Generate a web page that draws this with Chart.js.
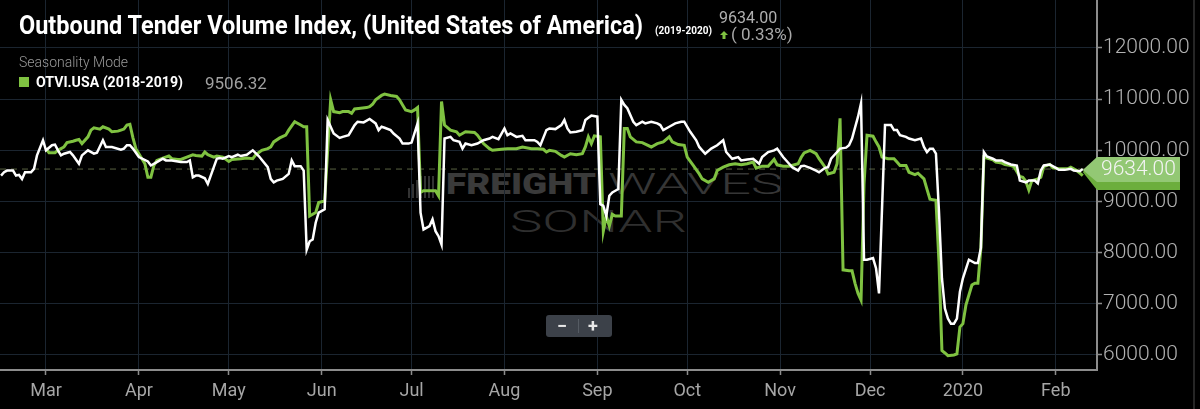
<!DOCTYPE html>
<html>
<head>
<meta charset="utf-8">
<script src="https://cdn.jsdelivr.net/npm/chart.js@4.4.1/dist/chart.umd.min.js"></script>
<style>
html,body{margin:0;padding:0;background:#000;width:1200px;height:409px;overflow:hidden;font-family:Roboto,"Noto Sans",sans-serif;}
#wrap{position:relative;width:1200px;height:409px;background:#000;}
#c{position:absolute;left:0;top:0;z-index:1;}
.abs{position:absolute;white-space:nowrap;transform-origin:0 0;}
.wm{z-index:0;}
.ov{z-index:2;}
#rborder{position:absolute;left:1193px;top:0;width:2px;height:409px;background:#262626;z-index:2;}
#zoomctl{position:absolute;left:546px;top:315px;width:66px;height:22px;background:#3c4149;border-radius:3px;z-index:2;}
#zoomctl span{position:absolute;top:0;line-height:21px;color:#e8e8e8;font-weight:700;font-size:18px;}
</style>
</head>
<body>
<div id="wrap">
  <div id="wmIcon" class="abs wm" style="left:408px;top:176px;width:29px;height:22px;"></div>
  <div id="wmF" class="abs wm" style="left:446px;top:169px;font-size:30px;line-height:30px;font-weight:900;color:#3a3a3a;">FREIGHT</div>
  <div id="wmW" class="abs wm" style="left:608px;top:169px;font-size:30px;line-height:30px;font-weight:300;color:#363636;">WAVES</div>
  <div id="wmS" class="abs wm" style="left:510px;top:205px;font-size:32px;line-height:32px;font-weight:300;color:#2f2f2f;">SONAR</div>

  <canvas id="c" width="1200" height="409"></canvas>

  <div id="title" class="abs ov" style="left:19px;top:13px;font-size:25px;line-height:25px;font-weight:700;color:#fff;">Outbound Tender Volume Index, (United States of America)</div>
  <div id="titleSub" class="abs ov" style="left:655px;top:25px;font-size:11px;line-height:11px;font-weight:700;color:#fff;">(2019-2020)</div>
  <div id="curVal" class="abs ov" style="left:719px;top:10px;font-size:16px;line-height:16px;font-weight:400;color:#b0b0b0;">9634.00</div>
  <svg class="abs ov" style="left:720px;top:31px;" width="8" height="8" viewBox="0 0 8 8"><path d="M4 0 L8 4 L5.5 4 L5.5 8 L2.5 8 L2.5 4 L0 4 Z" fill="#7fc241"/></svg>
  <div id="chg" class="abs ov" style="left:731px;top:26px;font-size:17px;line-height:17px;font-weight:400;color:#a8a8a8;">( 0.33%)</div>
  <div id="mode" class="abs ov" style="left:19px;top:55px;font-size:14px;line-height:14px;font-weight:300;color:#9a9a9a;">Seasonality Mode</div>
  <div class="abs ov" style="left:19px;top:77px;width:10px;height:10px;background:#7fc241;"></div>
  <div id="leg" class="abs ov" style="left:36px;top:75px;font-size:15px;line-height:15px;font-weight:700;color:#fff;">OTVI.USA (2018-2019)</div>
  <div id="legVal" class="abs ov" style="left:205px;top:75px;font-size:17px;line-height:17px;font-weight:400;color:#a0a0a0;">9506.32</div>
  <div id="zoomctl"><span style="left:11px;">&minus;</span><span style="left:42px;">+</span><div style="position:absolute;left:32px;top:4px;width:1px;height:14px;background:#555b63;"></div></div>
  <div id="rborder"></div>
</div>
<script>
// ---- data (days counted from 1 March of the 2019 season year) ----
const monthTickDays   = [0, 31, 61, 92, 122, 153, 184, 214, 245, 275, 306, 337];
const monthTickLabels = ['Mar','Apr','May','Jun','Jul','Aug','Sep','Oct','Nov','Dec','2020','Feb'];
const yTickValues     = [6000, 7000, 8000, 9000, 10000, 11000, 12000];

// OTVI.USA 2019-2020 (white)
const whiteDays = [-15,-14,-13,-11,-10,-9,-8,-7,-5,-4,-3,-1,0,2,3,4,5,6,8,9,11,12,14,16,17,19,20,22,25,26,27,28,29,31,34,35,37,39,40,42,45,47,48,49,50,51,53,54,56,57,58,59,61,62,64,65,67,69,71,74,75,76,77,79,81,82,83,85,86,87,88,89,90,91,93,94,95,96,98,99,101,103,104,106,108,110,111,112,113,115,116,118,119,121,122,124,125,126,128,129,130,131,132,133,135,136,138,139,140,142,144,146,148,149,151,153,154,155,157,159,160,163,164,165,167,168,170,172,173,174,175,177,179,180,181,182,184,185,186,187,188,189,190,191,192,193,194,196,197,199,200,202,204,205,206,208,210,212,213,215,217,218,220,222,224,226,227,229,231,232,234,236,238,239,241,243,244,246,248,249,251,252,253,255,257,258,260,261,262,264,265,267,268,269,271,272,273,274,276,277,278,280,282,283,284,285,287,288,290,292,293,294,295,296,297,298,299,300,301,302,303,304,305,306,308,310,311,312,313,314,316,317,319,320,322,324,325,327,328,330,331,332,333,335,337,338,340,342,343,345,346];
const whiteValues = [9507,9572,9605,9605,9507,9520,9441,9572,9572,9638,9901,10197,10000,10099,10112,10000,9901,9934,9967,9901,9737,9901,10000,9934,9954,10197,10066,10066,10013,10033,10099,10099,10033,9868,9783,9704,9770,9836,9803,9803,9770,9770,9803,9474,9507,9507,9454,9342,9671,9836,9849,9836,9888,9868,9914,9888,9914,10000,9888,9671,9441,9375,9408,9441,9539,9803,9691,9691,9605,8059,8223,8256,8585,8783,8849,10592,10461,10329,10243,10263,10296,10494,10559,10546,10612,10526,10395,10461,10441,10395,10329,10230,10132,10132,10151,10526,8783,8454,8520,8651,8420,8322,8158,10230,10263,10197,10165,10033,10132,10099,10132,10197,10230,10263,10217,10428,10296,10329,10263,10283,10197,10197,10165,10099,10395,10428,10415,10494,10592,10428,10349,10362,10395,10592,10638,10678,10658,8947,8914,8717,9112,9178,9210,9243,10987,10888,10823,10559,10494,10559,10526,10559,10526,10494,10395,10461,10526,10559,10559,10362,10197,10066,9934,10033,10099,10197,9967,9836,9868,9803,9822,9836,9737,9868,9967,10000,10033,9868,9737,9671,9605,9690,9700,9658,9605,9572,9658,9671,9836,9967,10033,10053,10099,10230,10658,10921,7862,7862,7895,7697,7204,10493,10493,10395,10395,10296,10263,10230,10197,10230,10066,9967,10033,10033,9934,8816,7500,6908,6711,6612,6612,6711,7237,7500,7862,7796,7796,8092,9967,9882,9836,9803,9803,9770,9724,9704,9408,9375,9408,9408,9355,9605,9704,9724,9658,9618,9618,9638,9605,9592,9634];

// OTVI.USA 2018-2019 (green)
const greenDays = [0,1,3,4,5,6,7,9,10,11,12,14,15,16,18,19,21,22,24,25,26,27,28,29,30,31,33,34,35,36,37,39,41,42,44,45,47,49,50,52,53,54,56,57,59,61,62,65,67,69,70,72,74,75,76,78,80,81,83,85,86,87,88,90,91,93,95,96,98,99,101,102,103,105,107,108,109,110,112,113,115,117,118,119,120,122,123,124,125,126,128,130,131,132,133,135,137,138,140,143,144,146,148,149,152,154,157,159,162,164,166,167,168,170,172,173,175,177,179,180,181,182,183,185,186,187,188,189,190,192,193,194,195,197,199,202,204,206,208,209,211,213,214,216,218,219,221,223,224,226,228,230,232,234,236,237,239,241,243,244,246,248,251,252,253,255,257,258,260,261,263,264,265,266,268,269,270,271,272,273,274,276,277,278,279,281,283,284,285,287,288,290,291,293,294,295,297,298,299,300,301,303,304,305,306,307,309,310,311,312,313,316,317,319,320,322,323,325,326,327,328,329,331,332,333,335,336,338,340,341,342,344,346];
const greenValues = [10033,9954,9954,10000,10033,10066,10151,10178,10197,10211,10132,10263,10395,10441,10415,10461,10415,10362,10375,10395,10415,10494,10507,10250,10033,9934,9737,9474,9474,9704,9803,9849,9888,9836,9822,9822,9868,9914,9901,9888,9967,9914,9868,9888,9868,9783,9822,9836,9849,9836,9914,10000,10033,10066,10165,10243,10296,10395,10559,10494,10461,10461,8717,8783,8980,9013,10987,10757,10737,10757,10757,10724,10809,10823,10836,10855,10901,10987,11073,11099,11073,11053,10987,10888,10790,10757,10790,10836,9178,9210,9210,9210,9112,10954,10494,10395,10362,10296,10362,10349,10296,10132,10033,10000,10020,10033,10033,10066,10033,10033,10020,9967,10000,9980,9901,9868,9934,9914,9934,10066,10263,10132,10283,10263,8421,8717,8520,8750,8717,8717,10428,10428,10263,10165,10151,10066,10132,10165,10263,10165,10112,10099,9868,9704,9539,9441,9375,9441,9605,9671,9717,9737,9717,9737,9770,9651,9691,9691,9822,9717,9691,9691,9737,9860,9950,10000,9934,9836,9671,9540,9572,9737,10625,7664,7645,7645,7401,7204,7072,9342,10296,10276,10165,10066,9868,9836,9836,9770,9704,9704,9572,9526,9553,9441,9243,9046,9026,7829,6086,6039,5987,6000,6020,6546,6612,6974,7368,7401,7401,8092,9868,9816,9770,9750,9724,9704,9684,9487,9474,9395,9224,9408,9441,9474,9684,9724,9658,9638,9638,9638,9671,9605,9506.32];

const currentValue = 9634.00;

const whitePoints = whiteDays.map((d, i) => ({x: d, y: whiteValues[i]}));
const greenPoints = greenDays.map((d, i) => ({x: d, y: greenValues[i]}));

const lastValuePlugin = {
  id: 'lastValue',
  beforeDatasetsDraw(chart) {
    const {ctx, chartArea, scales} = chart;
    const y = scales.y.getPixelForValue(currentValue);
    ctx.save();
    ctx.strokeStyle = 'rgba(150,165,110,0.6)';
    ctx.lineWidth = 1;
    ctx.setLineDash([6, 5]);
    ctx.beginPath();
    ctx.moveTo(chartArea.left, y);
    ctx.lineTo(chartArea.right, y);
    ctx.stroke();
    ctx.restore();
  },
  afterDraw(chart) {
    const {ctx, chartArea, scales} = chart;
    const y = scales.y.getPixelForValue(currentValue);
    const tipX = scales.x.getPixelForValue(whiteDays[whiteDays.length - 1]);
    const bx = chartArea.right, ex = 1180;
    ctx.save();
    ctx.fillStyle = '#6cae3c';
    ctx.beginPath();
    ctx.moveTo(tipX, y + 3);
    ctx.lineTo(bx, y - 10);
    ctx.lineTo(ex, y - 10);
    ctx.lineTo(ex, y + 21);
    ctx.lineTo(bx, y + 21);
    ctx.closePath();
    ctx.fill();
    ctx.fillStyle = '#93c874';
    ctx.beginPath();
    ctx.moveTo(tipX, y + 1);
    ctx.lineTo(bx, y - 12);
    ctx.lineTo(ex, y - 12);
    ctx.lineTo(ex, y + 13);
    ctx.lineTo(bx, y + 13);
    ctx.closePath();
    ctx.fill();
    ctx.fillStyle = '#f4f4f4';
    ctx.font = '300 21px Roboto';
    ctx.textBaseline = 'middle';
    ctx.textAlign = 'left';
    ctx.fillText(currentValue.toFixed(2), bx + 4, y + 1);
    ctx.restore();
  }
};

const axisGray = '#8c8c8c';
const gridCol = '#1b2530';

new Chart(document.getElementById('c'), {
  type: 'line',
  data: {
    datasets: [
      { label: 'OTVI.USA (2019-2020)', data: whitePoints, borderColor: '#ffffff', borderWidth: 2.5, pointRadius: 0, tension: 0, fill: false },
      { label: 'OTVI.USA (2018-2019)', data: greenPoints, borderColor: '#7fc241', borderWidth: 3, pointRadius: 0, tension: 0, fill: false }
    ]
  },
  options: {
    responsive: false,
    animation: false,
    events: [],
    layout: { padding: 0 },
    plugins: { legend: { display: false }, tooltip: { enabled: false }, title: { display: false } },
    scales: {
      x: {
        type: 'linear',
        min: -15.35,
        max: 350.75,
        afterBuildTicks: s => { s.ticks = monthTickDays.map(v => ({value: v})); },
        afterFit: s => { s.height = 39; s.paddingLeft = 0; s.paddingRight = 0; },
        ticks: {
          autoSkip: false, maxRotation: 0, padding: 6,
          color: '#a6a6a6',
          font: { family: 'Roboto', size: 18, weight: '400' },
          callback: (v, i) => monthTickLabels[i]
        },
        grid: { color: gridCol, lineWidth: 1, tickLength: 5, tickColor: axisGray, tickWidth: 1.5 },
        border: { color: axisGray, width: 2 }
      },
      y: {
        position: 'right',
        min: 5706.8,
        max: 12938,
        afterBuildTicks: s => { s.ticks = yTickValues.map(v => ({value: v})); },
        afterFit: s => { s.width = 103; s.paddingTop = 0; s.paddingBottom = 0; },
        ticks: {
          padding: 1,
          color: '#b2b2b2',
          font: { family: 'Roboto', size: 21, weight: '300' },
          callback: v => Number(v).toFixed(2)
        },
        grid: { color: gridCol, lineWidth: 1, tickLength: 5, tickColor: axisGray, tickWidth: 1.5 },
        border: { color: axisGray, width: 2 }
      }
    }
  },
  plugins: [lastValuePlugin]
});

function fitWidth(id, w) {
  const el = document.getElementById(id);
  el.style.transform = 'none';
  const cw = el.getBoundingClientRect().width;
  if (cw > 0) el.style.transform = 'scaleX(' + (w / cw) + ')';
}
function fitAll() {
  fitWidth('title', 624);
  fitWidth('titleSub', 57);
  fitWidth('leg', 147);
  fitWidth('wmF', 150);
  fitWidth('wmW', 175);
  fitWidth('wmS', 177);
}
fitAll();
if (document.fonts && document.fonts.ready) document.fonts.ready.then(fitAll);

// watermark icon: vertical bars
(function(){
  const ic = document.getElementById('wmIcon');
  const hs = [10, 14, 18, 22, 22, 22, 22];
  hs.forEach((h, i) => {
    const b = document.createElement('div');
    b.style.cssText = 'position:absolute;bottom:0;left:' + (i * 4) + 'px;width:2px;height:' + h + 'px;background:#333;';
    ic.appendChild(b);
  });
})();
</script>
</body>
</html>
